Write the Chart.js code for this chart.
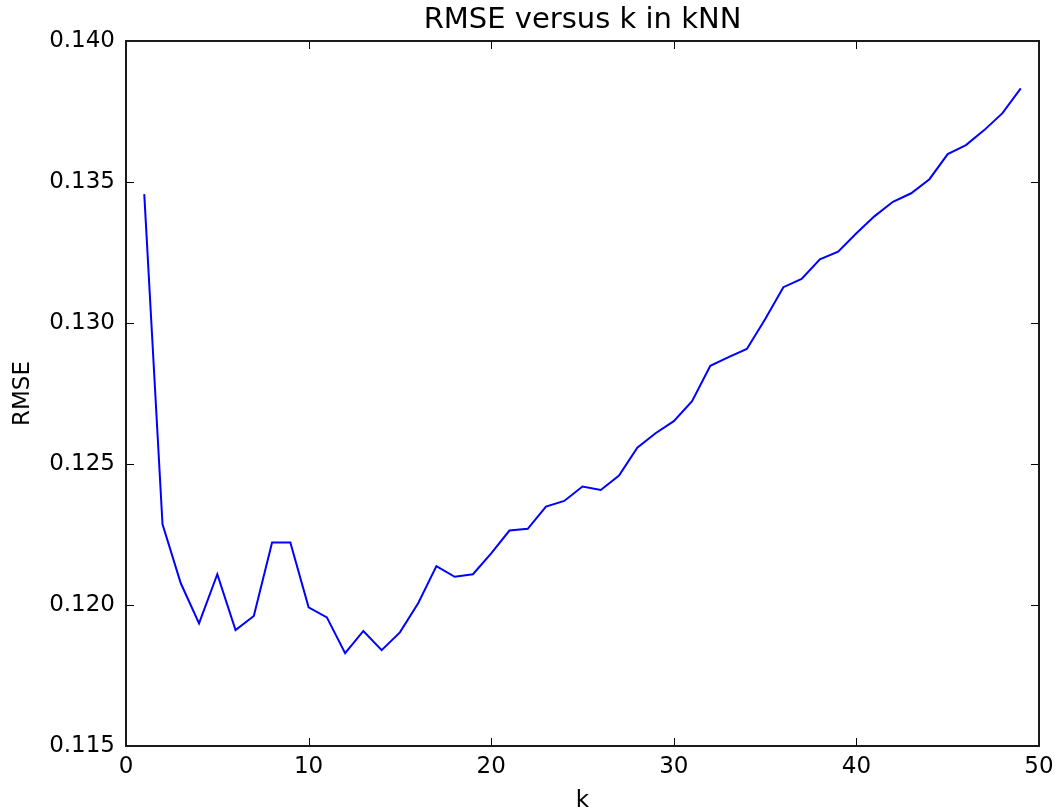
<!DOCTYPE html>
<html>
<head>
<meta charset="utf-8">
<script src="https://cdn.jsdelivr.net/npm/chart.js"></script>
<style>
  html, body { margin: 0; padding: 0; background: #ffffff; }
  #wrap { width: 1057px; height: 812px; }
</style>
</head>
<body>
<div id="wrap"><canvas id="c" width="1057" height="812"></canvas></div>
<script>
// ---- data ----
const kValues = [1,2,3,4,5,6,7,8,9,10,11,12,13,14,15,16,17,18,19,20,21,22,23,24,25,
                 26,27,28,29,30,31,32,33,34,35,36,37,38,39,40,41,42,43,44,45,46,47,48,49];
const rmseValues = [0.13457,0.12286,0.12077,0.11935,0.12109,0.11911,0.11961,0.12222,0.12222,0.11992,
                    0.11956,0.11829,0.11908,0.11840,0.11903,0.12006,0.12138,0.12100,0.12109,0.12183,
                    0.12264,0.12270,0.12349,0.12369,0.12420,0.12408,0.12459,0.12558,0.12609,0.12652,
                    0.12723,0.12848,0.12879,0.12908,0.13013,0.13127,0.13156,0.13226,0.13253,0.13318,
                    0.13379,0.13430,0.13460,0.13510,0.13599,0.13631,0.13684,0.13744,0.13832];
const xTickValues = [0,10,20,30,40,50];
const yTickValues = [0.115,0.120,0.125,0.130,0.135,0.140];
const titleText = 'RMSE versus k in kNN';
const xLabel = 'k';
const yLabel = 'RMSE';

Chart.defaults.font.family = "'DejaVu Sans', sans-serif";
Chart.defaults.color = '#000000';

const points = kValues.map((k, i) => ({ x: k, y: rmseValues[i] }));

// Center the title over the plot area (as matplotlib does)
const titleOverAxes = {
  id: 'titleOverAxes',
  afterLayout(chart) {
    if (chart.titleBlock) {
      chart.titleBlock.left = chart.chartArea.left;
      chart.titleBlock.right = chart.chartArea.right;
    }
  }
};

// Frame + inward ticks on all four sides (matplotlib classic look)
const framePlugin = {
  id: 'frameTicks',
  afterDatasetsDraw(chart) {
    const { ctx, chartArea: a, scales } = chart;
    const tl = 8;
    ctx.save();
    ctx.strokeStyle = '#000000';
    ctx.lineWidth = 1;
    ctx.beginPath();
    xTickValues.forEach(v => {
      const px = Math.round(scales.x.getPixelForValue(v)) + 0.5;
      ctx.moveTo(px, a.bottom); ctx.lineTo(px, a.bottom - tl);
      ctx.moveTo(px, a.top); ctx.lineTo(px, a.top + tl);
    });
    yTickValues.forEach(v => {
      const py = Math.round(scales.y.getPixelForValue(v)) + 0.5;
      ctx.moveTo(a.left, py); ctx.lineTo(a.left + tl, py);
      ctx.moveTo(a.right, py); ctx.lineTo(a.right - tl, py);
    });
    ctx.stroke();
    ctx.strokeStyle = '#1a1a1a';
    ctx.lineWidth = 2;
    ctx.strokeRect(a.left, a.top, a.right - a.left, a.bottom - a.top);
    ctx.restore();
  }
};

new Chart(document.getElementById('c'), {
  type: 'line',
  data: {
    datasets: [{
      data: points,
      borderColor: '#0000ff',
      borderWidth: 2,
      pointRadius: 0,
      tension: 0,
      fill: false
    }]
  },
  options: {
    responsive: false,
    animation: false,
    devicePixelRatio: 1,
    layout: { padding: { top: 0, right: 18, bottom: 0, left: 0 } },
    plugins: {
      legend: { display: false },
      tooltip: { enabled: false },
      title: {
        display: true,
        text: titleText,
        color: '#000000',
        font: { size: 29, weight: 'normal', lineHeight: 1.2 },
        padding: { top: 3, bottom: 3.2 }
      }
    },
    scales: {
      x: {
        type: 'linear',
        min: 0, max: 50,
        grid: { display: false, drawTicks: false },
        border: { display: false },
        afterBuildTicks: s => { s.ticks = xTickValues.map(v => ({ value: v })); },
        ticks: { font: { size: 23 }, color: '#000000', padding: 7, maxRotation: 0,
                 callback: v => String(v) },
        title: { display: true, text: xLabel, color: '#000000',
                 font: { size: 23, lineHeight: 0.95 }, padding: { top: 0, bottom: 0 } },
        afterFit: s => { s.height = 66; s.paddingLeft = 0; s.paddingRight = 0; }
      },
      y: {
        type: 'linear',
        min: 0.115, max: 0.140,
        grid: { display: false, drawTicks: false },
        border: { display: false },
        afterBuildTicks: s => { s.ticks = yTickValues.map(v => ({ value: v })); },
        ticks: { font: { size: 23 }, color: '#000000', padding: 11,
                 callback: v => Number(v).toFixed(3) },
        title: { display: true, text: yLabel, color: '#000000',
                 font: { size: 23, lineHeight: 1.2 }, padding: { top: 9, bottom: 0 } },
        afterFit: s => { s.width = 126; s.paddingTop = 0; s.paddingBottom = 0; }
      }
    }
  },
  plugins: [titleOverAxes, framePlugin]
});
</script>
</body>
</html>
